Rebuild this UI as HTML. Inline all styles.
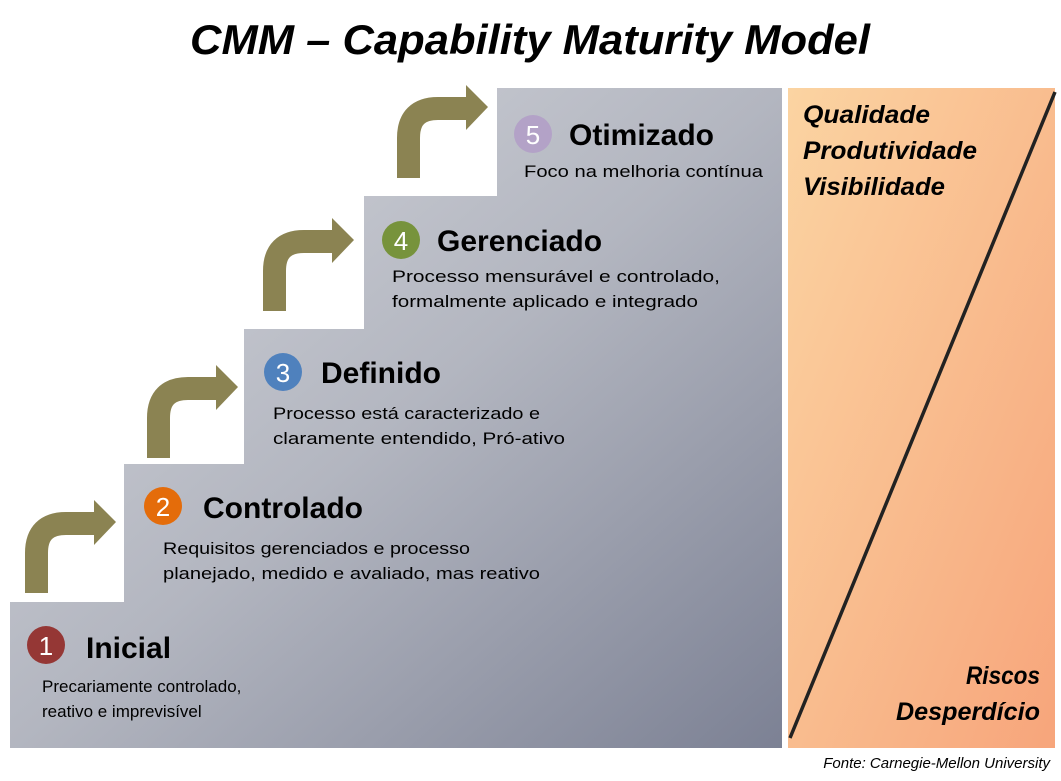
<!DOCTYPE html>
<html><head><meta charset="utf-8"><style>
html,body{margin:0;padding:0;background:#fff;}
svg{display:block;}
text{font-family:"Liberation Sans",sans-serif;}
</style></head><body>
<svg width="1061" height="781" viewBox="0 0 1061 781" xmlns="http://www.w3.org/2000/svg">
<defs>
<linearGradient id="g" x1="0" y1="0" x2="1" y2="1" gradientUnits="objectBoundingBox">
<stop offset="0" stop-color="#d6d8de"/><stop offset="0.5" stop-color="#b3b6c0"/><stop offset="1" stop-color="#7c8194"/>
</linearGradient>
<linearGradient id="o" x1="0" y1="0" x2="1" y2="1">
<stop offset="0" stop-color="#fbd4a2"/><stop offset="1" stop-color="#f7a57b"/>
</linearGradient>
<g id="arr">
<path d="M36.5 593 V553 Q36.5 523.5 66 523.5 H96" fill="none" stroke="#8b8352" stroke-width="23"/>
<polygon points="94,500 116,522 94,545" fill="#8b8352"/>
</g>
</defs>
<text x="530" y="54" text-anchor="middle" font-size="42" font-weight="bold" font-style="italic" textLength="680" lengthAdjust="spacingAndGlyphs">CMM – Capability Maturity Model</text>
<polygon points="497,88 782,88 782,748 10,748 10,602 124,602 124,464 244,464 244,329 364,329 364,196 497,196" fill="url(#g)"/>
<rect x="788" y="88" width="267" height="660" fill="url(#o)"/>
<line x1="1055" y1="92" x2="790" y2="738" stroke="#222" stroke-width="3.5"/>
<use href="#arr"/>
<use href="#arr" transform="translate(122,-135)"/>
<use href="#arr" transform="translate(238,-282)"/>
<use href="#arr" transform="translate(372,-415)"/>
<circle cx="46" cy="645" r="19" fill="#953735"/><text x="46" y="655" text-anchor="middle" font-size="26" fill="#fff">1</text>
<text x="86" y="658" font-size="30" font-weight="bold">Inicial</text>
<text x="42" y="692" font-size="17">Precariamente controlado,</text>
<text x="42" y="717" font-size="17">reativo e imprevisível</text>
<circle cx="163" cy="506" r="19" fill="#e46c0a"/><text x="163" y="516" text-anchor="middle" font-size="26" fill="#fff">2</text>
<text x="203" y="518" font-size="30" font-weight="bold">Controlado</text>
<text x="163" y="554" font-size="17" textLength="307" lengthAdjust="spacingAndGlyphs">Requisitos gerenciados e processo</text>
<text x="163" y="579" font-size="17" textLength="377" lengthAdjust="spacingAndGlyphs">planejado, medido e avaliado, mas reativo</text>
<circle cx="283" cy="372" r="19" fill="#4f81bd"/><text x="283" y="382" text-anchor="middle" font-size="26" fill="#fff">3</text>
<text x="321" y="383" font-size="30" font-weight="bold">Definido</text>
<text x="273" y="419" font-size="17" textLength="267" lengthAdjust="spacingAndGlyphs">Processo está caracterizado e</text>
<text x="273" y="444" font-size="17" textLength="292" lengthAdjust="spacingAndGlyphs">claramente entendido, Pró-ativo</text>
<circle cx="401" cy="240" r="19" fill="#77933c"/><text x="401" y="250" text-anchor="middle" font-size="26" fill="#fff">4</text>
<text x="437" y="251" font-size="30" font-weight="bold">Gerenciado</text>
<text x="392" y="282" font-size="17" textLength="328" lengthAdjust="spacingAndGlyphs">Processo mensurável e controlado,</text>
<text x="392" y="307" font-size="17" textLength="306" lengthAdjust="spacingAndGlyphs">formalmente aplicado e integrado</text>
<circle cx="533" cy="134" r="19" fill="#b3a2c7"/><text x="533" y="144" text-anchor="middle" font-size="26" fill="#fff">5</text>
<text x="569" y="145" font-size="30" font-weight="bold">Otimizado</text>
<text x="524" y="177" font-size="17" textLength="239" lengthAdjust="spacingAndGlyphs">Foco na melhoria contínua</text>
<g font-size="25" font-weight="bold" font-style="italic">
<text x="803" y="123" textLength="127" lengthAdjust="spacingAndGlyphs">Qualidade</text>
<text x="803" y="159" textLength="174" lengthAdjust="spacingAndGlyphs">Produtividade</text>
<text x="803" y="195" textLength="142" lengthAdjust="spacingAndGlyphs">Visibilidade</text>
<text x="966" y="684" textLength="74" lengthAdjust="spacingAndGlyphs">Riscos</text>
<text x="896" y="720" textLength="144" lengthAdjust="spacingAndGlyphs">Desperdício</text>
</g>
<text x="1050" y="768" text-anchor="end" font-size="15" font-style="italic">Fonte: Carnegie-Mellon University</text>
</svg>
</body></html>
